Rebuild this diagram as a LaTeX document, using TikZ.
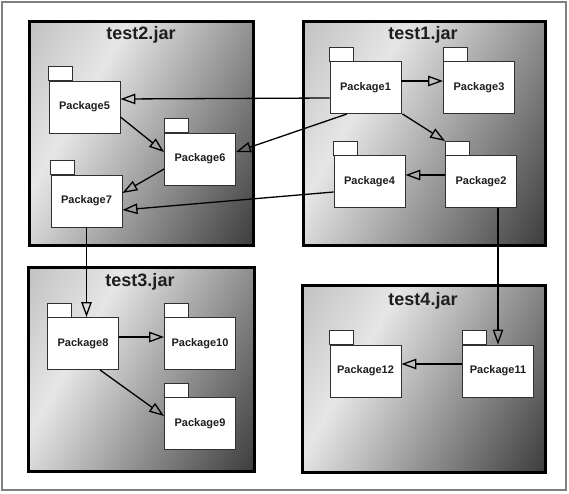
\documentclass[tikz,border=0pt]{standalone}
\usepackage{fontspec}
\setmainfont{Liberation Sans}
\usetikzlibrary{arrows.meta,calc}
\definecolor{shA}{HTML}{C2C2C2}
\definecolor{shB}{HTML}{E6E6E6}
\definecolor{shC}{HTML}{3A3A3A}
\definecolor{pkgline}{HTML}{303030}
\definecolor{frameline}{HTML}{808080}
\definecolor{txt}{HTML}{1E1E1E}
\pgfdeclarehorizontalshading{jarshade}{100bp}{color(0bp)=(shA); color(16bp)=(shA); color(35bp)=(shB); color(85bp)=(shC); color(100bp)=(shC)}
\newcommand\pkgnode[3]{%
  \node[pkg] (#1) at (#2) {#3};
  \draw[pkgtab] (#1.north west) rectangle ++(24,-14);}
\begin{document}
\begin{tikzpicture}[x=1pt,y=-1pt,
  frame/.style={draw=frameline,line width=1.6pt},
  jar/.style={draw=black,line width=3pt,shading=jarshade,shading angle=-30,inner sep=0pt},
  jartitle/.style={font=\bfseries\fontsize{18}{20}\selectfont,text=txt,inner sep=0pt},
  pkg/.style={draw=pkgline,fill=white,line width=0.9pt,minimum width=71pt,minimum height=52pt,inner sep=0pt,
    font=\bfseries\fontsize{11}{12}\selectfont,text=txt},
  pkgtab/.style={draw=pkgline,fill=white,line width=0.9pt},
  dep/.style={draw=black,line width=1.3pt,-{Triangle[open,length=15pt,width=10.5pt,line width=1.3pt]}}]
\useasboundingbox (0,0) rectangle (569,493);
\fill[white] (0,0) rectangle (569,493);
\draw[frame] (2,2) rectangle (566,490);
% jar containers
\node[jar,minimum width=224pt,minimum height=223.5pt] (J2) at (141.5,133.25) {};
\node[jar,minimum width=241.5pt,minimum height=223.5pt] (J1) at (424.25,133.25) {};
\node[jar,minimum width=225.5pt,minimum height=203.5pt] (J3) at (141.25,369.25) {};
\node[jar,minimum width=242.5pt,minimum height=186.5pt] (J4) at (423.75,378.75) {};
\node[jartitle] (T2) at (141,35) {test2.jar};
\node[jartitle] (T1) at (423,35) {test1.jar};
\node[jartitle] (T3) at (140,282) {test3.jar};
\node[jartitle] (T4) at (423,301) {test4.jar};
% packages
\pkgnode{P1}{365.5,87.5}{Package1}
\pkgnode{P3}{479,87.5}{Package3}
\pkgnode{P4}{369.5,181.5}{Package4}
\pkgnode{P2}{481,181.5}{Package2}
\pkgnode{P5}{84.5,107}{Package5}
\pkgnode{P6}{200,159}{Package6}
\pkgnode{P7}{86.5,201}{Package7}
\pkgnode{P8}{83,343.5}{Package8}
\pkgnode{P10}{200,343.5}{Package10}
\pkgnode{P9}{200,423.5}{Package9}
\pkgnode{P12}{365.5,371}{Package12}
\pkgnode{P11}{498,371}{Package11}
% dependencies
\draw[dep] ([yshift=6.5pt]P1.east) -- ([yshift=6.5pt]P3.west);
\draw[dep] ([xshift=1pt]P1.south east) -- ([yshift=14pt]P2.north west);
\draw[dep] ([yshift=6.5pt]P2.west) -- ([yshift=6.5pt]P4.east);
\draw[dep] ([yshift=-10.5pt]P1.west) -- ([yshift=8pt]P5.east);
\draw[dep] ([xshift=-18.5pt]P1.south) -- ([yshift=7pt]P6.east);
\draw[dep] ([yshift=-10.5pt]P4.west) -- ([yshift=-9pt]P7.east);
\draw[dep] ([yshift=-10pt]P5.east) -- ([yshift=7pt]P6.west);
\draw[dep] ([yshift=-10pt]P6.west) -- ([yshift=8pt]P7.east);
\draw[dep] (P7.south) -- (P7.south |- P8.north);
\draw[dep] ([yshift=6.5pt]P8.east) -- ([yshift=6.5pt]P10.west);
\draw[dep] ([xshift=17pt]P8.south) -- ([yshift=7.5pt]P9.west);
\draw[dep] (P11.north |- P2.south) -- (P11.north);
\draw[dep] ([yshift=7pt]P11.west) -- ([yshift=7pt]P12.east);
\end{tikzpicture}
\end{document}
